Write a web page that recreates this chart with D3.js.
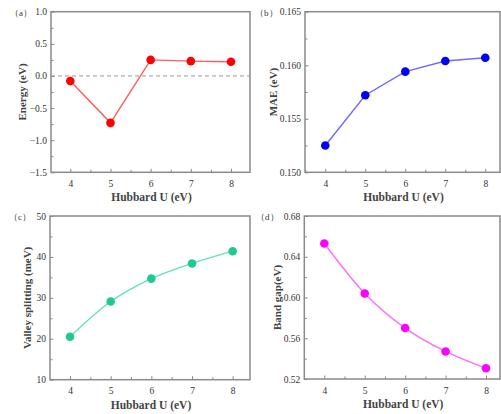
<!DOCTYPE html>
<html>
<head>
<meta charset="utf-8">
<script src="https://cdn.jsdelivr.net/npm/d3@7"></script>
<style>
  body { margin: 0; background: #fff; }
  svg text { font-family: "Liberation Serif", "Times New Roman", serif; }
</style>
</head>
<body>
<svg width="501" height="414"></svg>
<script>
"use strict";

var hubbardU = [4, 5, 6, 7, 8];
var energy = [-0.08, -0.73, 0.25, 0.23, 0.22];
var mae = [0.1525, 0.1572, 0.1594, 0.1604, 0.1607];
var valley = [20.5, 29.1, 34.7, 38.4, 41.4];
var bandGap = [0.653, 0.604, 0.570, 0.547, 0.5305];

var energyTicks = [-1.5, -1.0, -0.5, 0.0, 0.5, 1.0];
var maeTicks = [0.150, 0.155, 0.160, 0.165];
var valleyTicks = [10, 20, 30, 40, 50];
var gapTicks = [0.52, 0.56, 0.60, 0.64, 0.68];

var svg = d3.select("svg");

var panels = [
  {tag: "（a）", ylab: "Energy (eV)", vals: energy, ticks: energyTicks, fmt: d3.format(".1f"),
   l: 51, r: 250, t: 11.7, b: 172.3, x4: 70.3, x8: 231, labX: 22, tagX: 10,
   pt: "#ff0000", ln: "#ff5a5a", curve: d3.curveLinear, zero: true},
  {tag: "（b）", ylab: "MAE (eV)", vals: mae, ticks: maeTicks, fmt: d3.format(".3f"),
   l: 305, r: 500, t: 11.7, b: 172.3, x4: 325.3, x8: 485.3, labX: 273, tagX: 255,
   pt: "#0000f5", ln: "#6b6bff", curve: d3.curveLinear},
  {tag: "（c）", ylab: "Valley splitting (meV)", vals: valley, ticks: valleyTicks, fmt: d3.format("d"),
   l: 50, r: 250, t: 216, b: 379.7, x4: 70, x8: 232.7, labX: 27, tagX: 9,
   pt: "#1ecb8c", ln: "#62e2b4", curve: d3.curveMonotoneX},
  {tag: "（d）", ylab: "Band gap(eV)", vals: bandGap, ticks: gapTicks, fmt: d3.format(".2f"),
   l: 304.3, r: 500, t: 216, b: 379, x4: 324.3, x8: 486, labX: 277, tagX: 256,
   pt: "#ff00ff", ln: "#ff6cff", curve: d3.curveMonotoneX}
];

var serif = "'Liberation Serif', 'Times New Roman', serif";

function styleAxis(a) {
  a.attr("font-family", serif);
  a.select(".domain").remove();
  a.selectAll("line").attr("stroke", "#888");
  a.selectAll("text").attr("font-size", 9.5).attr("fill", "#333");
}

panels.forEach(function(p) {
  var g = svg.append("g");
  var ext = d3.extent(p.ticks);
  var x = d3.scaleLinear().domain([4, 8]).range([p.x4, p.x8]);
  var y = d3.scaleLinear().domain(ext).range([p.b, p.t]);
  var step = p.ticks[1] - p.ticks[0];
  var minorY = p.ticks.slice(0, -1).map(function(v) { return v + step / 2; });
  var minorX = [3.5, 4.5, 5.5, 6.5, 7.5, 8.5].filter(function(v) {
    return x(v) > p.l && x(v) < p.r;
  });

  // dashed zero line
  if (p.zero) {
    g.append("line")
      .attr("x1", p.l).attr("x2", p.r)
      .attr("y1", y(0)).attr("y2", y(0))
      .attr("stroke", "#999").attr("stroke-width", 1)
      .attr("stroke-dasharray", "4,3");
  }

  // minor ticks
  g.append("g").attr("transform", "translate(0," + p.b + ")")
    .call(d3.axisBottom(x).tickValues(minorX).tickSize(-2.5).tickFormat(""))
    .call(styleAxis);
  g.append("g").attr("transform", "translate(" + p.l + ",0)")
    .call(d3.axisLeft(y).tickValues(minorY).tickSize(-2.5).tickFormat(""))
    .call(styleAxis);

  // major ticks
  g.append("g").attr("transform", "translate(0," + p.b + ")")
    .call(d3.axisBottom(x).tickValues(hubbardU).tickSize(-3.5).tickPadding(8).tickFormat(d3.format("d")))
    .call(styleAxis);
  g.append("g").attr("transform", "translate(" + p.l + ",0)")
    .call(d3.axisLeft(y).tickValues(p.ticks).tickSize(-3.5).tickPadding(4).tickFormat(p.fmt))
    .call(styleAxis);

  // frame
  g.append("rect")
    .attr("x", p.l).attr("y", p.t)
    .attr("width", p.r - p.l).attr("height", p.b - p.t)
    .attr("fill", "none").attr("stroke", "#8a8a8a").attr("stroke-width", 1.5);

  // line + points
  var pts = hubbardU.map(function(u, i) { return [u, p.vals[i]]; });
  g.append("path")
    .datum(pts)
    .attr("fill", "none")
    .attr("stroke", p.ln)
    .attr("stroke-width", 1.4)
    .attr("d", d3.line().curve(p.curve)
      .x(function(d) { return x(d[0]); })
      .y(function(d) { return y(d[1]); }));
  g.selectAll("circle").data(pts).enter().append("circle")
    .attr("cx", function(d) { return x(d[0]); })
    .attr("cy", function(d) { return y(d[1]); })
    .attr("r", 4.3)
    .attr("fill", p.pt);

  // titles
  g.append("text")
    .attr("x", (p.l + p.r) / 2 + 1)
    .attr("y", p.b + 29)
    .attr("text-anchor", "middle")
    .attr("font-size", 11.5)
    .attr("font-weight", "bold")
    .attr("fill", "#444")
    .text("Hubbard U (eV)");
  g.append("text")
    .attr("transform", "translate(" + p.labX + "," + ((p.t + p.b) / 2) + ") rotate(-90)")
    .attr("text-anchor", "middle")
    .attr("dy", "0.35em")
    .attr("font-size", 11)
    .attr("font-weight", "bold")
    .attr("fill", "#444")
    .text(p.ylab);
  g.append("text")
    .attr("x", p.tagX)
    .attr("y", p.t + 4)
    .attr("font-size", 9)
    .attr("fill", "#333")
    .text(p.tag);
});
</script>
</body>
</html>
